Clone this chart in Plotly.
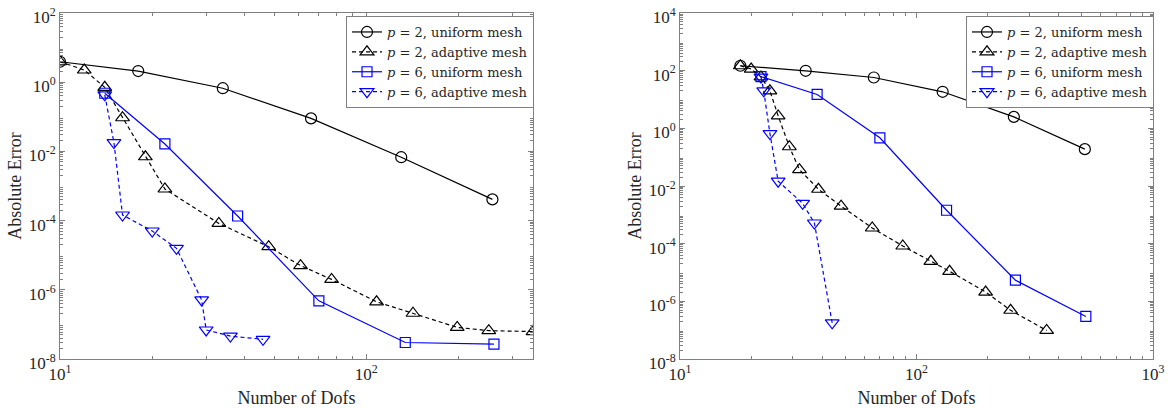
import plotly.graph_objects as go
import numpy as np

# ---------------- Data ----------------
# Left panel
L_p2u_x = [10, 18, 34, 66, 130, 258]
L_p2u_y = [3.9, 2.1, 0.67, 0.09, 0.0068, 4.1e-4]

L_p2a_x = [10, 12, 14, 16, 19, 22, 33, 48, 61, 77, 108, 142, 198, 251, 350]
L_p2a_y = [3.9, 2.25, 0.71, 0.094, 0.0070, 8.2e-4, 8.3e-5, 1.76e-5, 5.0e-6, 2.0e-6, 4.5e-7, 2.1e-7, 8.2e-8, 6.6e-8, 6.2e-8]

L_p6u_x = [14, 22, 38, 70, 134, 261]
L_p6u_y = [0.48, 0.0164, 1.36e-4, 4.8e-7, 3.0e-8, 2.7e-8]

L_p6a_x = [14, 15, 16, 20, 24, 29, 30, 36, 46]
L_p6a_y = [0.43, 0.018, 1.45e-4, 5.0e-5, 1.58e-5, 5.1e-7, 6.9e-8, 4.6e-8, 3.7e-8]

# Right panel
R_p2u_x = [18, 34, 66, 129, 258, 515]
R_p2u_y = [148, 99, 58, 18.5, 2.5, 0.19]

R_p2a_x = [18, 20, 22, 24, 26, 29, 32, 38.5, 48, 65, 87.5, 115, 138, 196, 250, 355]
R_p2a_y = [148, 114, 61, 20, 2.7, 0.23, 0.037, 0.0077, 0.002, 3.5e-4, 8.3e-5, 2.45e-5, 1.1e-5, 2.1e-6, 4.9e-7, 9.8e-8]

R_p6u_x = [22, 38, 70, 134, 262, 520]
R_p6u_y = [62, 15, 0.47, 1.44e-3, 5.4e-6, 3.0e-7]

R_p6a_x = [22, 22.6, 24, 26, 33, 37, 44]
R_p6a_y = [60, 20, 0.66, 0.0147, 0.0025, 5.2e-4, 1.8e-7]

labels = ["<i>p</i> = 2, uniform mesh", "<i>p</i> = 2, adaptive mesh",
          "<i>p</i> = 6, uniform mesh", "<i>p</i> = 6, adaptive mesh"]

# ---------------- Styles ----------------
FONT = "Liberation Serif"
LEGFONT = "DejaVu Serif"
TXT = "#262626"
GRAY = "#808080"
BLACK = "#000000"
BLUE = "#0000ff"
styles = [
    dict(color=BLACK, dash="solid", symbol="circle-open", size=11),
    dict(color=BLACK, dash="4px,3px", symbol="triangle-up-open", size=12),
    dict(color=BLUE, dash="solid", symbol="square-open", size=10),
    dict(color=BLUE, dash="4px,3px", symbol="triangle-down-open", size=12),
]

fig = go.Figure()

def add_panel(series, xa, ya, legend):
    for (x, y), lab, st in zip(series, labels, styles):
        fig.add_trace(go.Scatter(
            x=x, y=y, mode="lines+markers", name=lab,
            xaxis=xa, yaxis=ya, legend=legend,
            line=dict(color=st["color"], width=1.2, dash=st["dash"]),
            marker=dict(symbol=st["symbol"], size=st["size"], color=st["color"],
                        line=dict(color=st["color"], width=1.2)),
        ))

add_panel([(L_p2u_x, L_p2u_y), (L_p2a_x, L_p2a_y), (L_p6u_x, L_p6u_y), (L_p6a_x, L_p6a_y)],
          "x", "y", "legend")
add_panel([(R_p2u_x, R_p2u_y), (R_p2a_x, R_p2a_y), (R_p6u_x, R_p6u_y), (R_p6a_x, R_p6a_y)],
          "x2", "y2", "legend2")

def minor_vals(lo, hi):
    v = []
    for k in range(lo, hi):
        for m in range(2, 10):
            v.append(m * 10.0 ** k)
    return v

def sup(k):
    return "10<sup>%d</sup>" % k

TICKSIZE = 17
TITLESIZE = 18

axis_common = dict(
    type="log", showgrid=False, zeroline=False,
    showline=True, linecolor=GRAY, linewidth=1, mirror="allticks",
    ticks="inside", ticklen=5, tickcolor=GRAY,
    tickfont=dict(family=FONT, size=TICKSIZE, color=TXT),
    ticklabeloverflow="allow",
    automargin=False,
)

# Figure fills the whole window (page body margin is removed below).
W, H = 1170, 408

def fx(px):
    return px / W

def fy(py):
    return 1 - py / H

xd1 = [fx(60), fx(533)]
xd2 = [fx(680), fx(1153)]
yd = [fy(359), fy(13)]

yt1 = [-8, -6, -4, -2, 0, 2]
yt2 = [-8, -6, -4, -2, 0, 2, 4]

minor_style = dict(ticks="inside", ticklen=3, tickcolor=GRAY)
title_font = dict(family=FONT, size=TITLESIZE, color=TXT)
legend_style = dict(xanchor="left", yanchor="top",
                    bgcolor="white", bordercolor=GRAY, borderwidth=1,
                    font=dict(family=LEGFONT, size=13, color=TXT),
                    tracegroupgap=0, itemwidth=30)

fig.update_layout(
    width=W, height=H,
    margin=dict(l=0, r=0, t=0, b=0),
    paper_bgcolor="white", plot_bgcolor="white",
    font=dict(family=FONT, size=TICKSIZE, color=TXT),
    xaxis=dict(axis_common, domain=xd1, anchor="y",
               range=[1, np.log10(350)],
               tickvals=[10, 100], ticktext=[sup(1), sup(2)],
               minor=dict(minor_style, tickvals=minor_vals(1, 3)),
               title=dict(text="Number of Dofs", font=title_font)),
    yaxis=dict(axis_common, domain=yd, anchor="x",
               range=[-8, 2], ticklabelshift=4,
               tickvals=[10.0 ** k for k in yt1], ticktext=[sup(k) for k in yt1],
               minor=dict(minor_style, tickvals=minor_vals(-8, 2)),
               title=dict(text="Absolute Error", font=title_font, standoff=2)),
    xaxis2=dict(axis_common, domain=xd2, anchor="y2",
                range=[1, 3],
                tickvals=[10, 100, 1000], ticktext=[sup(1), sup(2), sup(3)],
                minor=dict(minor_style, tickvals=minor_vals(1, 3)),
                title=dict(text="Number of Dofs", font=title_font)),
    yaxis2=dict(axis_common, domain=yd, anchor="x2",
                range=[-8, 4], ticklabelshift=4,
                tickvals=[10.0 ** k for k in yt2], ticktext=[sup(k) for k in yt2],
                minor=dict(minor_style, tickvals=minor_vals(-8, 4)),
                title=dict(text="Absolute Error", font=title_font, standoff=2)),
    legend=dict(legend_style, x=fx(346), y=fy(16)),
    legend2=dict(legend_style, x=fx(966), y=fy(16)),
)

fig.write_html("out.html",
               config={"displayModeBar": False},
               post_script="document.body.style.margin='0';document.body.style.overflow='hidden';")
